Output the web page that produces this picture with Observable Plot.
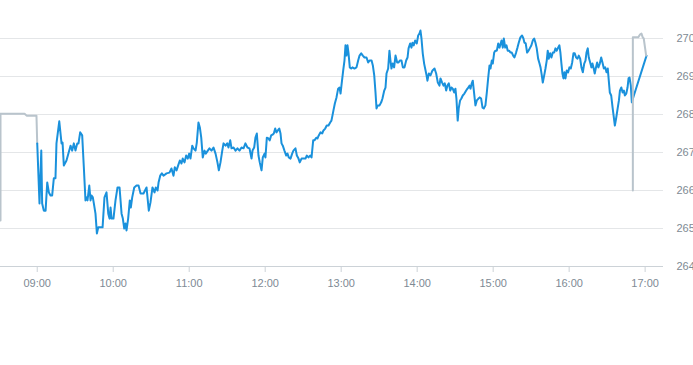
<!DOCTYPE html>
<html><head><meta charset="utf-8">
<script src="https://cdn.jsdelivr.net/npm/d3@7"></script>
<script src="https://cdn.jsdelivr.net/npm/@observablehq/plot@0.6"></script>
<style>body{margin:0;background:#fff;font-family:"Liberation Sans",Arial,sans-serif}</style>
</head><body><div id="chart"></div>
<script>
// minutes after 09:00 and prices, regular session (blue)
const minutes = [0,1.8,3.2,3.9,5.2,6.6,7.9,9.2,10.5,11.8,13.1,14.4,15.2,17.4,19.2,20.0,21.0,23.1,26.3,27.6,28.9,30.2,31.6,32.6,33.9,35.5,36.8,38.1,38.7,39.7,41.1,42.1,42.9,43.9,44.7,46.0,47.1,48.2,51.6,53.1,54.7,56.1,57.1,57.9,58.7,60.2,61.8,63.4,65.0,66.6,67.6,68.7,69.7,70.5,71.8,73.1,73.9,75.0,76.6,78.4,80.0,81.6,83.9,86.3,88.1,89.4,91.0,92.6,93.6,95.0,95.8,97.1,98.4,99.7,102.1,104.4,106.0,107.6,108.6,110.0,111.3,112.6,113.9,114.9,116.3,117.6,118.9,120.0,121.0,122.4,123.4,125.0,126.0,127.3,128.4,129.5,130.7,132.1,133.1,134.7,136.0,137.6,139.2,140.8,142.3,143.4,144.7,146.1,147.1,148.7,150.0,151.0,152.4,153.4,155.0,156.6,158.1,159.7,161.3,162.9,164.4,166.0,167.6,169.2,170.0,171.3,172.3,173.4,174.7,175.7,177.1,178.1,179.5,180.2,181.3,182.6,183.6,184.7,185.8,186.8,187.9,188.9,190.0,191.1,192.1,192.9,193.9,195.2,196.6,197.6,198.6,200.0,201.3,202.3,203.9,205.0,206.3,207.3,208.7,211.8,212.9,214.2,215.5,216.6,217.9,218.9,220.3,221.3,222.3,223.7,225.0,226.0,227.4,228.6,230.0,231.3,232.3,233.1,233.9,235.0,236.3,237.6,238.7,239.5,240.2,241.6,242.6,243.4,244.2,245.0,245.8,246.8,247.9,248.9,250.5,252.1,253.4,254.5,255.8,257.1,258.4,260.0,261.3,262.4,264.0,265.0,266.1,267.1,267.9,268.9,270.3,271.6,272.6,274.0,275.0,275.8,277.1,278.1,278.9,279.7,280.7,281.8,282.9,284.2,285.3,286.3,287.6,288.7,290.0,291.3,292.4,293.2,294.5,295.5,296.3,297.3,298.4,299.7,300.8,301.8,302.6,303.4,304.4,305.5,306.3,307.4,308.1,309.2,310.5,312.1,313.7,315.0,316.3,317.6,318.4,319.7,320.8,321.8,322.9,323.9,325.0,326.1,327.1,328.1,329.2,330.2,331.0,332.0,332.8,333.9,334.9,336.0,337.3,338.7,339.7,340.5,341.3,342.1,343.1,343.9,345.0,346.0,347.1,348.4,349.4,350.5,351.6,352.6,353.9,355.0,356.1,357.1,357.9,358.9,359.7,360.8,361.8,362.9,364.0,365.0,366.6,367.6,368.4,369.5,370.5,371.5,372.6,373.6,374.7,375.8,376.8,378.1,379.2,380.2,381.5,382.8,383.9,384.7,385.7,386.8,387.9,388.9,390.2,391.3,392.4,393.4,394.4,395.5,396.6,397.4,398.4,399.2,400.3,401.3,402.3,403.1,403.9,405.0,406.0,407.1,408.2,409.2,410.2,411.3,412.3,413.1,413.9,414.7,415.5,416.3,417.1,418.1,419.2,420.2,421.3,422.4,423.4,424.4,425.5,426.6,427.6,428.7,429.7,430.8,431.9,432.9,433.7,434.7,435.5,436.6,437.6,438.4,439.4,440.2,441.0,442.1,443.1,444.2,445.3,446.3,447.4,448.5,449.5,450.5,451.3,452.1,453.2,454.3,455.3,456.1,457.2,458.3,459.3,460.1,461.2,462.2,463.2,464.0,465.1,466.1,466.9,467.7,468.7,469.5,471.1,481.1];
const prices = [267.24,265.66,267.05,265.66,265.47,265.47,266.21,265.95,265.87,265.87,266.32,266.32,267.24,267.82,267.24,267.26,266.66,266.79,267.18,267.05,267.24,267.05,267.24,267.24,267.53,267.45,266.61,265.74,265.82,265.74,266.13,265.74,265.87,265.82,265.66,265.39,264.87,265.03,265.03,265.82,265.95,265.39,265.26,265.55,265.26,265.26,265.74,266.08,266.08,265.39,265.26,265.00,265.13,264.95,265.26,265.74,265.55,265.82,266.08,266.13,266.13,265.92,265.92,266.08,265.47,265.68,266.08,265.95,266.08,266.00,266.21,266.39,266.45,266.39,266.45,266.47,266.58,266.39,266.61,266.53,266.66,266.79,266.71,266.84,266.74,266.92,266.84,266.97,266.84,267.18,267.11,267.05,267.26,267.79,267.66,267.39,266.87,267.05,266.97,267.05,267.11,267.05,267.13,266.97,266.74,266.53,266.74,267.05,267.24,267.18,267.24,267.13,267.32,267.11,267.13,267.05,267.11,267.05,267.13,267.11,267.24,267.13,267.11,266.84,267.05,267.13,267.39,267.50,266.92,266.74,266.53,266.87,266.97,266.87,267.39,267.37,267.32,267.45,267.47,267.50,267.63,267.53,267.58,267.63,267.50,267.24,267.18,267.05,266.92,266.97,266.87,266.84,266.97,267.05,267.11,266.92,266.84,266.74,266.84,266.84,266.92,266.87,266.92,266.87,267.32,267.32,267.39,267.37,267.45,267.53,267.50,267.58,267.63,267.71,267.71,267.79,267.84,267.97,268.11,268.29,268.45,268.68,268.71,268.55,268.76,269.16,269.42,269.82,269.55,269.82,269.61,269.24,269.21,269.24,269.21,269.24,269.42,269.55,269.61,269.55,269.50,269.50,269.37,269.42,269.42,269.29,269.03,268.58,268.16,268.24,268.24,268.32,268.42,268.63,268.71,269.08,269.21,269.68,269.42,269.21,269.34,269.24,269.55,269.37,269.37,269.42,269.42,269.24,269.24,269.42,269.50,269.74,269.87,269.76,269.89,269.82,269.95,269.87,270.08,270.13,270.21,270.00,269.61,269.34,269.21,269.03,268.89,269.08,269.03,269.16,269.21,269.08,268.84,268.76,268.95,268.84,268.76,268.82,268.63,268.76,268.82,268.63,268.71,268.68,268.58,268.68,268.42,267.84,268.16,268.37,268.42,268.50,268.55,268.63,268.68,268.71,268.76,268.68,268.82,268.89,268.55,268.24,268.37,268.42,268.45,268.42,268.18,268.16,268.24,268.58,268.97,269.29,269.21,269.42,269.34,269.63,269.68,269.68,269.87,269.76,269.95,269.76,270.00,269.76,269.82,269.68,269.68,269.63,269.63,269.55,269.50,269.63,269.76,269.89,270.03,270.08,270.00,269.89,269.87,269.63,269.68,269.74,269.82,269.95,270.00,269.89,269.74,269.47,269.34,269.24,269.03,268.84,269.03,269.21,269.42,269.68,269.47,269.61,269.50,269.63,269.63,269.74,269.68,269.76,269.82,269.63,269.34,269.08,268.95,269.11,268.95,269.16,269.11,269.24,269.21,269.37,269.61,269.61,269.50,269.47,269.55,269.47,269.24,269.11,269.34,269.42,269.63,269.74,269.50,269.37,269.24,269.34,269.21,269.08,269.21,269.37,269.24,269.34,269.50,269.37,269.21,269.24,269.11,269.21,268.89,268.58,268.50,268.18,267.92,267.71,267.92,268.16,268.37,268.63,268.71,268.58,268.63,268.50,268.55,268.71,268.95,268.97,268.76,268.32,268.50,269.55];
// pre-market (grey)
const preMinutes = [-29.0,-29.0,-10.0,-8.4,-0.6,0];
const prePrices = [265.21,268.02,268.02,267.97,267.97,267.24];
// after-hours (grey)
const postMinutes = [470.3,470.3,474.5,476.1,477.1,478.1,478.9,480.8];
const postPrices = [266.00,270.03,270.03,270.11,270.13,270.03,270.00,269.55];
const yTicks = [264,265,266,267,268,269,270];
const xTickLabels = ["09:00","10:00","11:00","12:00","13:00","14:00","15:00","16:00","17:00"];

const base = Date.UTC(2020,0,2,9,0);
const t = m => new Date(base + m*60000);
const toMin = s => { const [h,mm] = s.split(":").map(Number); return (h-9)*60+mm; };
const main = minutes.map((m,i)=>({time:t(m), price:prices[i]}));
const pre = preMinutes.map((m,i)=>({time:t(m), price:prePrices[i]}));
const post = postMinutes.map((m,i)=>({time:t(m), price:postPrices[i]}));
const xTicks = xTickLabels.map(s=>t(toMin(s)));
const fmt = d3.utcFormat("%H:%M");

const chart = Plot.plot({
  width: 693, height: 365,
  marginLeft: 0, marginRight: 30, marginTop: 0, marginBottom: 99,
  style: {fontFamily: '"Liberation Sans", Arial, sans-serif', fontSize: "11px", background: "#fff"},
  x: {type: "utc", domain: [t(-29), t(494.5)], label: null},
  y: {domain: [264, 271], label: null},
  marks: [
    Plot.ruleY(yTicks.slice(1), {stroke: "#e4e6e8", strokeWidth: 1}),
    Plot.ruleY([264], {stroke: "#ccd2d7", strokeWidth: 1}),
    Plot.axisY({ticks: yTicks, anchor: "right", label: null, tickSize: 0, tickPadding: 13, textAnchor: "start", fill: "#7e8a94", fontSize: 11}),
    Plot.axisX({ticks: xTicks, tickFormat: fmt, label: null, tickSize: 6, tickPadding: 7, stroke: "#ccd2d7", fill: "#7e8a94", fontSize: 11}),
    Plot.line(pre, {x: "time", y: "price", stroke: "#b9c4cc", strokeWidth: 2, curve: "linear"}),
    Plot.line(main, {x: "time", y: "price", stroke: "#1a91dc", strokeWidth: 2, curve: "linear", strokeLinejoin: "round"}),
    Plot.line(post, {x: "time", y: "price", stroke: "#b9c4cc", strokeWidth: 2, curve: "linear"})
  ]
});
document.getElementById("chart").appendChild(chart);
</script>
</body></html>
